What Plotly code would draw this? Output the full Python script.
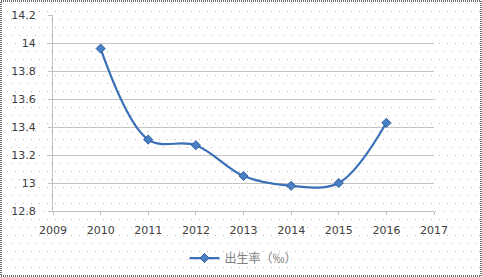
import base64
import plotly.graph_objects as go

years = [2010, 2011, 2012, 2013, 2014, 2015, 2016]
birth_rate = [13.96, 13.31, 13.27, 13.05, 12.98, 13.00, 13.43]
series_name = "出生率（‰）"
x_ticks = [2009, 2010, 2011, 2012, 2013, 2014, 2015, 2016, 2017]
y_ticks = [12.8, 13.0, 13.2, 13.4, 13.6, 13.8, 14.0, 14.2]
y_labels = ["12.8", "13", "13.2", "13.4", "13.6", "13.8", "14", "14.2"]

W, H = 482, 277
ML, MR, MT, MB = 53, 48, 15, 66
PW, PH = W - ML - MR, H - MT - MB

# dotted background + dashed border as an SVG decoration
svg = f'''<svg xmlns="http://www.w3.org/2000/svg" width="{W}" height="{H}">
<defs><pattern id="p" width="8" height="16" patternUnits="userSpaceOnUse">
<rect x="3" y="3" width="1" height="1" fill="#b8b8b8"/>
<rect x="7" y="11" width="1" height="1" fill="#b8b8b8"/>
</pattern></defs>
<rect width="{W}" height="{H}" fill="white"/>
<rect width="{W}" height="{H}" fill="url(#p)"/>
<rect x="1" y="1" width="{W-2}" height="{H-2}" fill="none" stroke="#6f6f6f" stroke-width="2" stroke-dasharray="1,1"/>
</svg>'''
src = "data:image/svg+xml;base64," + base64.b64encode(svg.encode()).decode()

fig = go.Figure()
fig.add_trace(go.Scatter(
    x=years, y=birth_rate, name=series_name,
    mode="lines+markers",
    line=dict(color="#3a70b8", width=2.2, shape="spline", smoothing=1.0),
    marker=dict(symbol="diamond", size=7, color="#4a80c4",
                line=dict(color="#2f5f9f", width=1)),
    showlegend=True,
))

fig.update_layout(
    width=W, height=H,
    margin=dict(l=ML, r=MR, t=MT, b=MB, pad=0, autoexpand=False),
    paper_bgcolor="white",
    plot_bgcolor="rgba(0,0,0,0)",
    font=dict(family="DejaVu Sans, Liberation Sans, sans-serif", size=11, color="#404040"),
    images=[dict(source=src, xref="paper", yref="paper",
                 x=-ML / PW, y=1 + MT / PH, sizex=W / PW, sizey=H / PH,
                 xanchor="left", yanchor="top", sizing="stretch", layer="below")],
    xaxis=dict(range=[2009, 2017], tickmode="array", tickvals=x_ticks,
               ticktext=[str(t) for t in x_ticks], automargin=False,
               showgrid=False, showline=True, linecolor="#bfbfbf", linewidth=1,
               ticks="outside", ticklen=3, tickcolor="#bfbfbf", zeroline=False,
               ticklabelstandoff=6,
               tickfont=dict(size=11, color="#404040")),
    yaxis=dict(range=[12.8, 14.2], tickmode="array", tickvals=y_ticks, ticktext=y_labels,
               automargin=False,
               showgrid=True, gridcolor="#c4c4c4", gridwidth=1,
               showline=True, linecolor="#bfbfbf", linewidth=1,
               ticks="outside", ticklen=4, tickcolor="#bfbfbf", zeroline=False,
               ticklabelstandoff=10,
               tickfont=dict(size=11, color="#404040")),
    legend=dict(orientation="h", x=0.5, xanchor="center", y=-0.24, yanchor="middle",
                bgcolor="rgba(0,0,0,0)",
                font=dict(family="Noto Sans CJK SC", size=12, color="#808080")),
)

fig.write_html("out.html")
